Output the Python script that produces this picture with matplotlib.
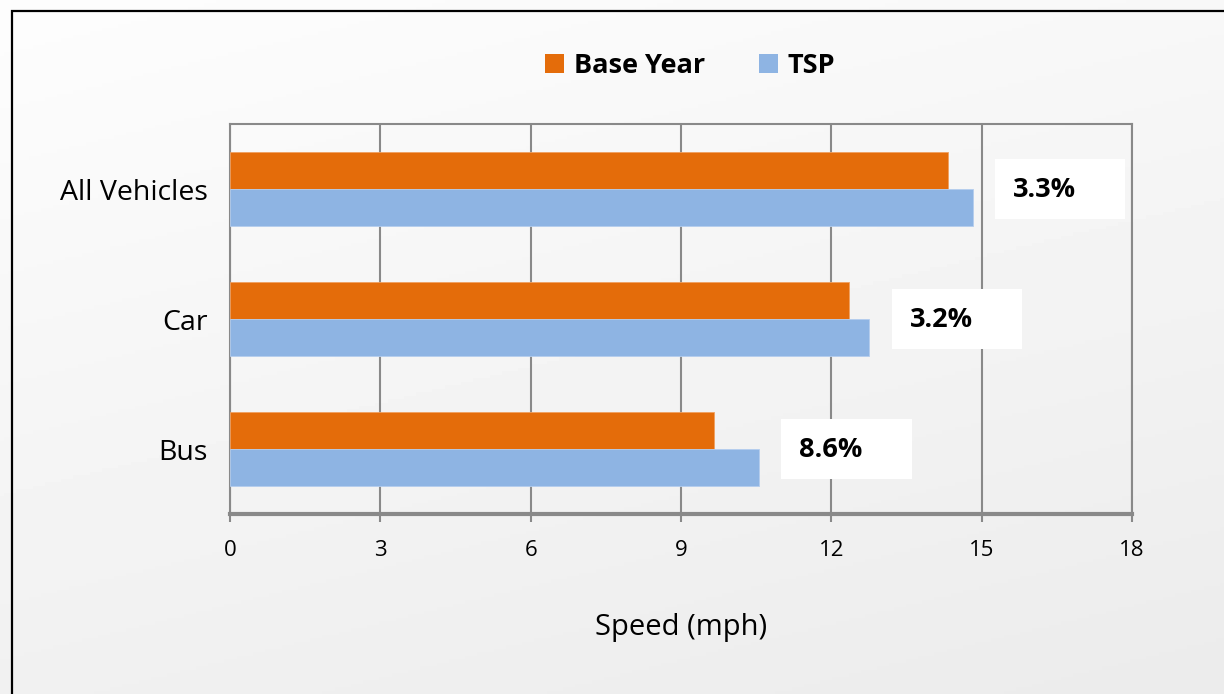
import matplotlib
matplotlib.use('Agg')

import numpy as np
import matplotlib.pyplot as plt
from matplotlib.patches import Patch, Rectangle

# ================================
# Data
# ================================
categories = ["Bus", "Car", "All Vehicles"]
base_year = [9.65, 12.35, 14.32]
tsp = [10.55, 12.76, 14.82]
pct_labels = ["8.6%", "3.2%", "3.3%"]
x_ticks = [0, 3, 6, 9, 12, 15, 18]

ORANGE = "#E46C0A"
BLUE = "#8EB4E3"
GRID = "#898989"

plt.rcParams['font.family'] = ['Open Sans', 'DejaVu Sans']

fig = plt.figure(figsize=(12.24, 6.94), dpi=100)

# ================================
# Background gradient + frame
# ================================
bg = fig.add_axes([0, 0, 1, 1], zorder=-10)
gx, gy = np.meshgrid(np.linspace(0, 1, 300), np.linspace(0, 1, 200))
grad = 0.992 - 0.07 * (0.3 * gx + 0.7 * gy)
bg.imshow(grad, cmap="gray", vmin=0, vmax=1, aspect="auto",
          extent=[0, 1, 0, 1], origin="upper")
bg.axis("off")
fig.patches.append(Rectangle((12 / 1224, -0.1), 1.5, 1.1 - 11 / 694,
                             transform=fig.transFigure, fill=False,
                             edgecolor="black", linewidth=1.6))

# ================================
# Bars
# ================================
ax = fig.add_axes([230 / 1224, (694 - 514) / 694, 902 / 1224, 390 / 694])
ax.set_facecolor("none")

y = np.arange(len(categories))
h = 0.285
ax.barh(y + h / 2, base_year, height=h, color=ORANGE, zorder=3,
        edgecolor="#F0A060", linewidth=0.6)
ax.barh(y - h / 2, tsp, height=h, color=BLUE, zorder=3,
        edgecolor="#B4CDEE", linewidth=0.6)

# percentage boxes
for i, (v, lab) in enumerate(zip(tsp, pct_labels)):
    x0 = v + 0.45
    ax.add_patch(Rectangle((x0, i - 0.23), 2.6, 0.46, facecolor="white",
                           edgecolor="none", zorder=4, clip_on=False))
    ax.text(x0 + 0.36, i - 0.01, lab, fontsize=19.5, fontweight="bold",
            ha="left", va="center", zorder=5)

# ================================
# Axes styling
# ================================
ax.set_xlim(0, 18)
ax.set_ylim(-0.5, 2.5)
ax.set_xticks(x_ticks)
ax.set_xticklabels([str(t) for t in x_ticks], fontsize=16)
ax.set_yticks(y)
ax.set_yticklabels(categories, fontsize=20.5)
ax.tick_params(axis="y", length=0, pad=16)
ax.tick_params(axis="x", length=6, width=1.5, color=GRID, pad=13,
               direction="out")
ax.xaxis.grid(True, color=GRID, linewidth=1.5, zorder=0)
ax.set_axisbelow(True)
for s in ["left", "top", "right"]:
    ax.spines[s].set_color(GRID)
    ax.spines[s].set_linewidth(1.5)
ax.spines["bottom"].set_color(GRID)
ax.spines["bottom"].set_linewidth(3)

ax.set_xlabel("Speed (mph)", fontsize=21)
ax.xaxis.set_label_coords(0.5, -0.29)
ax.xaxis.label.set_va("center")

# ================================
# Legend
# ================================
handles = [Patch(facecolor=ORANGE, label="Base Year"),
           Patch(facecolor=BLUE, label="TSP")]
fig.legend(handles=handles, loc="center", bbox_to_anchor=(690 / 1224, 1 - 66 / 694),
           ncol=2, frameon=False, prop={"weight": "bold", "size": 19.5},
           handlelength=0.7, handleheight=0.7, handletextpad=0.35,
           columnspacing=2.0)

fig.savefig("out.png", dpi=100)
